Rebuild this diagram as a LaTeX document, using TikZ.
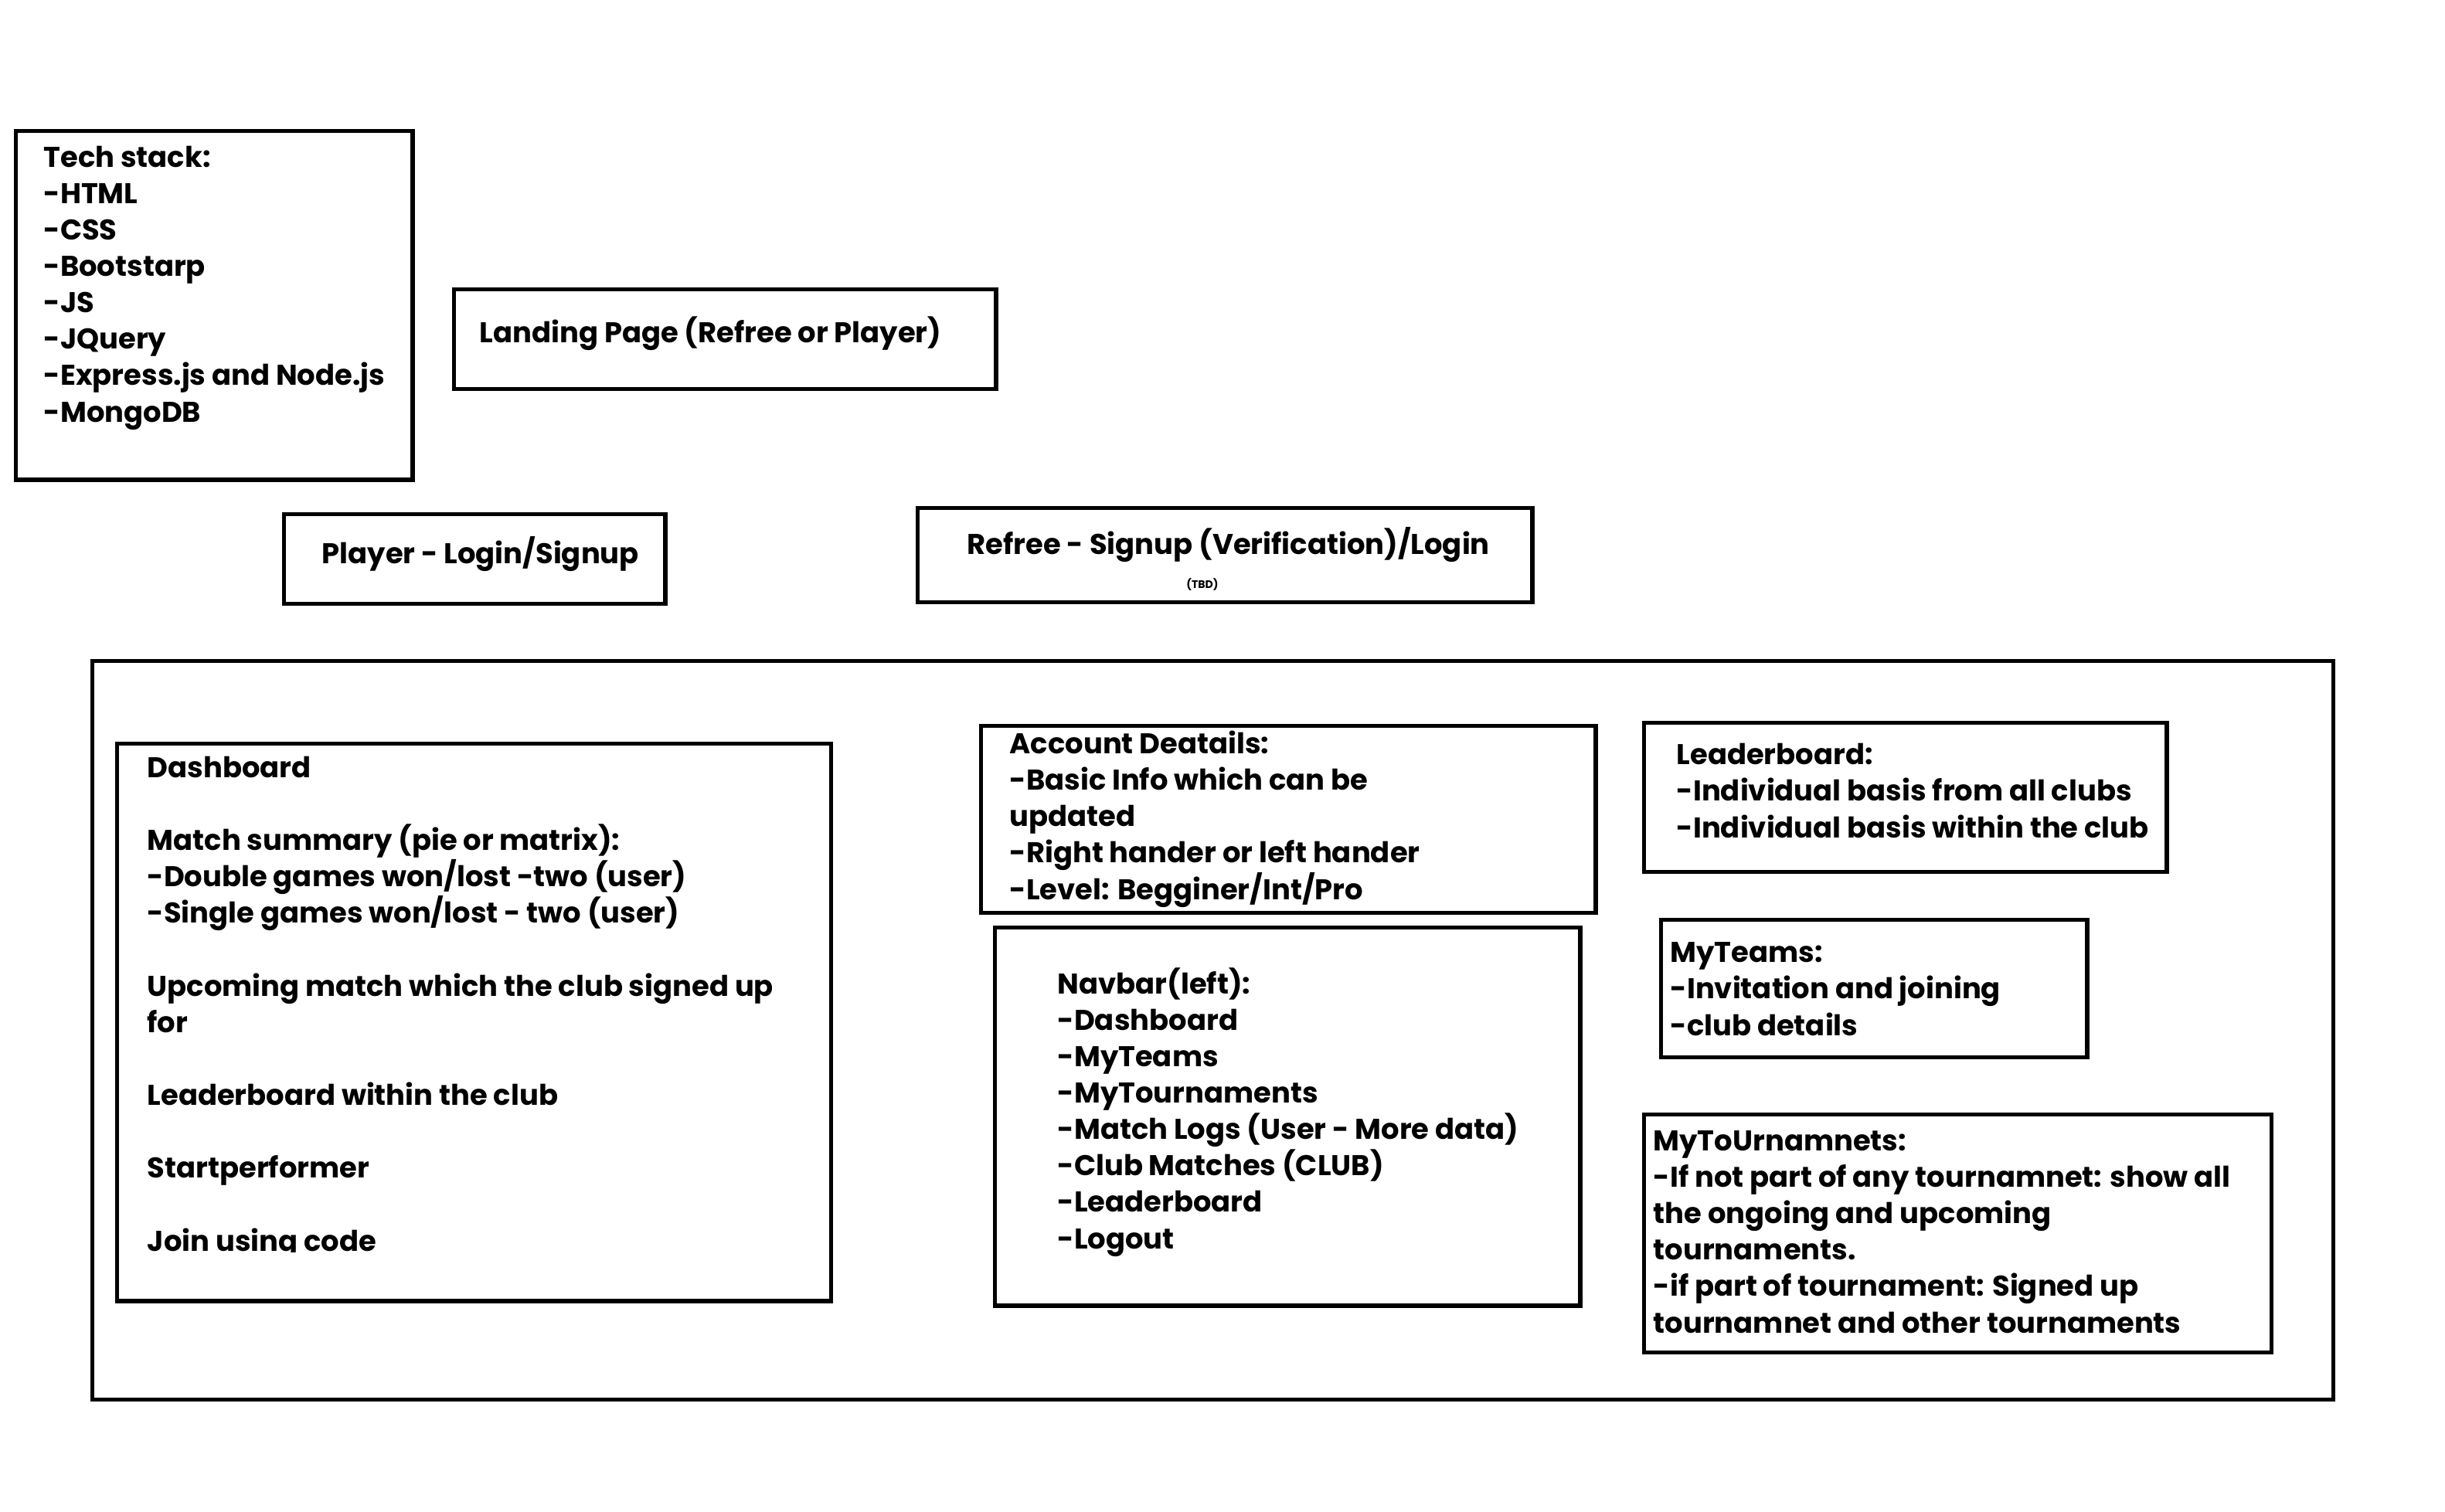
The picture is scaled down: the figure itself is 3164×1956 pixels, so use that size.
\documentclass[tikz,border=0pt]{standalone}
\usepackage{fontspec}
\setmainfont{Poppins}
\usetikzlibrary{positioning}

\begin{document}
\begin{tikzpicture}[x=0.01cm, y=-0.01cm,
  every node/.style={font=\bfseries\fontsize{10.5}{13.4}\selectfont},
  box/.style={draw, line width=1.5pt, anchor=north west, inner sep=0pt},
  txt/.style={anchor=base west, align=left, inner sep=0pt}
]
\useasboundingbox (0,0) rectangle (3164,1956);

% top row (text nodes sit on the baseline of their last line)
\node[box, minimum width=5.13cm, minimum height=4.51cm] (stack) at (18,167) {};
\node[txt] (stacktxt) at (56,546) {Tech stack:\\-HTML\\-CSS\\-Bootstarp\\-JS\\-JQuery\\-Express.js and Node.js\\-MongoDB};

\node[box, minimum width=7.01cm, minimum height=1.29cm] (landing) at (585,372) {};
\node[txt] (landingtxt) at (620,443) {Landing Page (Refree or Player)};

\node[box, minimum width=4.93cm, minimum height=1.16cm] (player) at (365,663) {};
\node[txt] (playertxt) at (416,729) {Player - Login/Signup};

\node[box, minimum width=7.95cm, minimum height=1.22cm] (refree) at (1185,655) {};
\node[txt] (refreetxt) at (1251,717) {Refree - Signup (Verification)/Login};
\node[font=\bfseries\fontsize{4}{5}\selectfont] (tbd) at (1556,757) {(TBD)};

% player area
\node[box, minimum width=28.98cm, minimum height=9.55cm] (area) at (117,853) {};

\node[box, minimum width=9.23cm, minimum height=7.21cm] (dash) at (149,960) {};
\begin{scope}
\clip (149,960) rectangle (1072,1620);
\node[txt] (dashtxt) at (190,1619) {Dashboard\\ \\Match summary (pie or matrix):\\-Double games won/lost -two (user)\\-Single games won/lost - two (user)\\ \\Upcoming match which the club signed up\\for\\ \\Leaderboard within the club\\ \\Startperformer\\ \\Join using code};
\end{scope}

\node[box, minimum width=7.95cm, minimum height=2.42cm] (account) at (1267,937) {};
\node[txt] (accounttxt) at (1306,1164) {Account Deatails:\\-Basic Info which can be\\updated\\-Right hander or left hander\\-Level: Begginer/Int/Pro};

\node[box, minimum width=7.57cm, minimum height=4.89cm] (navbar) at (1285,1198) {};
\node[txt] (navbartxt) at (1368,1616) {Navbar(left):\\-Dashboard\\-MyTeams\\-MyTournaments\\-Match Logs (User - More data)\\-Club Matches (CLUB)\\-Leaderboard\\-Logout};

\node[box, minimum width=6.76cm, minimum height=1.93cm] (board) at (2125,933) {};
\node[txt] (boardtxt) at (2169,1084) {Leaderboard:\\-Individual basis from all clubs\\-Individual basis within the club};

\node[box, minimum width=5.51cm, minimum height=1.78cm] (teams) at (2147,1188) {};
\node[txt] (teamstxt) at (2161,1340) {MyTeams:\\-Invitation and joining\\-club details};

\node[box, minimum width=8.11cm, minimum height=3.08cm] (tour) at (2125,1440) {};
\node[txt] (tourtxt) at (2139,1725) {MyToUrnamnets:\\-If not part of any tournamnet: show all\\the ongoing and upcoming\\tournaments.\\-if part of tournament: Signed up\\tournamnet and other tournaments};
\end{tikzpicture}
\end{document}
